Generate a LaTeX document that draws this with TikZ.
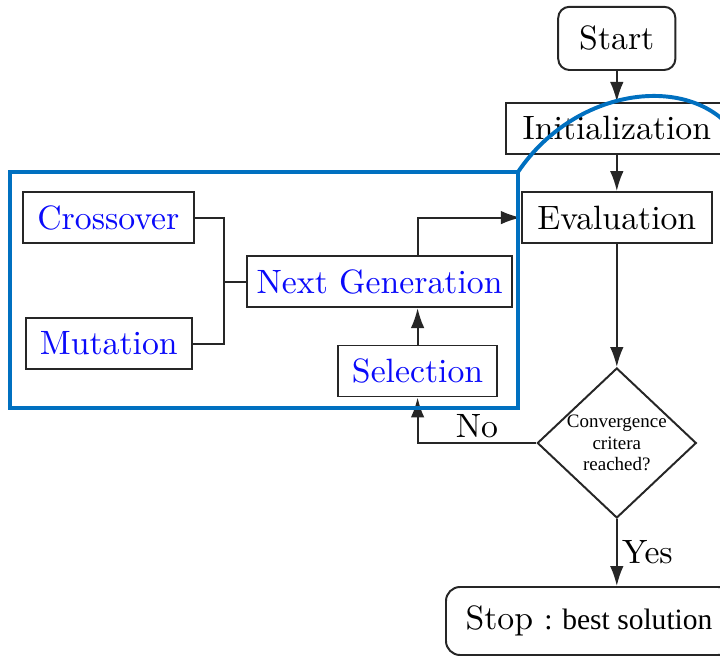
\documentclass[tikz,border=0pt]{standalone}
\usepackage{fontspec}
\setmainfont{lmroman10-regular.otf}
\newfontfamily\tnr{Liberation Serif}
\usetikzlibrary{shapes.geometric,arrows.meta,positioning,calc}
\definecolor{ppt}{RGB}{0,112,192}
\definecolor{gen}{RGB}{10,10,250}

\begin{document}
\begin{tikzpicture}[font=\fontsize{24}{28}\selectfont,line width=1.4pt,
 term/.style={draw=black!85,rounded corners=8pt,minimum height=1.58cm,minimum width=2.93cm},
 pr/.style={draw=black!85,minimum height=1.275cm,inner sep=2pt},
 op/.style={pr,text=gen},
 dc/.style={draw=black!85,diamond,aspect=1,minimum width=3.975cm,minimum height=3.75cm,inner sep=-4pt,align=center,font=\tnr\fontsize{13.5}{15.5}\selectfont},
 a/.style={draw=black!85,-{Latex[length=5mm,width=3.4mm]}},
 ln/.style={draw=black!85},
 yl/.style={font=\fontsize{24}{26}\selectfont,inner sep=3pt},
 hl/.style={draw=ppt,line width=2.8pt}]
\useasboundingbox (0,0) rectangle (18,-16.425);
\node[term] (st) at (15.42,-0.96) {Start};
\node[pr,minimum width=5.55cm] (ini) at (15.42,-3.21) {Initialization};
\node[pr,minimum width=4.75cm] (ev) at (15.42,-5.44) {Evaluation};
\node[dc] (cc) at (15.42,-11.075) {Convergence\\critera\\reached?};
\node[term,minimum width=7.15cm,minimum height=1.7cm,rounded corners=10pt] (sp) at (14.725,-15.525) {Stop {\tnr\fontsize{21}{24}\selectfont : best solution}};
\node[op,minimum width=4.275cm] (cr) at (2.71,-5.44) {Crossover};
\node[op,minimum width=4.15cm] (mu) at (2.72,-8.59) {Mutation};
\node[op,minimum width=6.625cm] (ng) at (9.49,-7.04) {Next Generation};
\node[op,minimum width=3.975cm] (se) at (10.44,-9.275) {Selection};
\coordinate (jn) at (5.6,-7.04);
\draw[a] (st)--(ini); \draw[a] (ini)--(ev); \draw[a] (ev)--(cc);
\draw[a] (cc)--node[yl,right]{Yes}(cc.south|-sp.north);
\draw[a] (cc.west)-|node[yl,above,pos=0.25]{No}(se.south);
\draw[a] (se.north)--(se.north|-ng.south);
\draw[a] (se.north|-ng.north)|-(ev.west);
\draw[ln] (cr.east)-|(jn); \draw[ln] (mu.east)-|(jn); \draw[ln] (jn)--(ng.west);
\draw[hl] (0.25,-4.3) rectangle (12.95,-10.2);
\draw[hl] (12.95,-4.3) .. controls (14.5,-2.0) and (17.75,-1.75) .. (18.625,-3.75);
\end{tikzpicture}
\end{document}
